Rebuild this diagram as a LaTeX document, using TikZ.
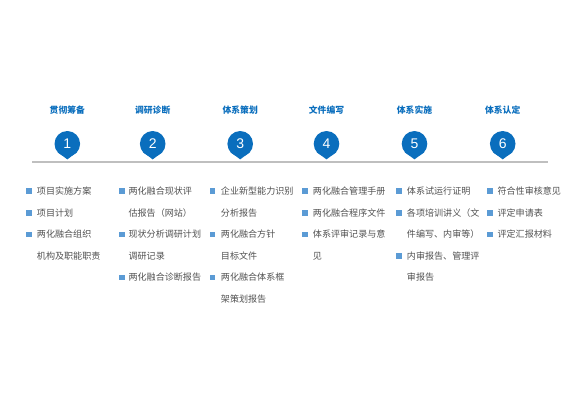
\documentclass[tikz,border=0pt]{standalone}
\usepackage{fontspec}
\setmainfont{Liberation Sans}
\newfontfamily\cjk{Noto Sans CJK SC}
\usetikzlibrary{calc}
\definecolor{pinblue}{HTML}{0A6EBD}
\definecolor{bulblue}{HTML}{5B9BD5}
\definecolor{txtgray}{HTML}{505050}
\definecolor{linegray}{HTML}{BFBFBF}
\tikzset{
  pin/.style={circle, fill=pinblue, minimum size=19.2pt, inner sep=0pt, outer sep=0pt},
  title/.style={text=pinblue, font=\cjk\bfseries\fontsize{6.6}{8}\selectfont, inner sep=0pt},
  item/.style={anchor=west, text=txtgray, font=\cjk\fontsize{6.8}{8}\selectfont, inner sep=0pt},
  bul/.style={fill=bulblue, minimum size=4.4pt, inner sep=0pt, outer sep=0pt}
}
\begin{document}
\begin{tikzpicture}[x=0.75pt, y=-0.75pt]
\useasboundingbox (0,0) rectangle (580,400);
% baseline
\coordinate (L0) at (32,162);
\coordinate (L1) at (548,162);
\draw[linegray, line width=1.1pt] (L0) -- (L1);
% titles and pins
\foreach \i/\x/\t in {1/67.3/贯彻筹备, 2/152.7/调研诊断, 3/240.2/体系策划, 4/326.5/文件编写, 5/414.5/体系实施, 6/502.7/体系认定}{
  \node[title] (t\i) at (\x,110) {\t};
  \node[pin] (p\i) at (\x,143.8) {};
  \fill[pinblue] (p\i.-40) -- ($(p\i.center)+(0,15.6)$) -- (p\i.-140) -- cycle;
  \node[text=white, font=\fontsize{10.5}{12}\selectfont, inner sep=0pt] (n\i) at (\x,144) {\i};
}
% column 1
\foreach \j/\y/\t/\b in {1/191/项目实施方案/1, 2/213/项目计划/1, 3/234.5/两化融合组织/1, 4/256/机构及职能职责/0}{
  \node[item] (a\j) at (36.7,\y) {\t};
  \ifnum\b=1 \node[bul] (ab\j) at (29.3,\y) {};\fi
}
% column 2
\foreach \j/\y/\t/\b in {1/191/两化融合现状评/1, 2/213/估报告（网站）/0, 3/234.5/现状分析调研计划/1, 4/256/调研记录/0, 5/277.5/两化融合诊断报告/1}{
  \node[item] (b\j) at (128.3,\y) {\t};
  \ifnum\b=1 \node[bul] (bb\j) at (121.7,\y) {};\fi
}
% column 3
\foreach \j/\y/\t/\b in {1/191/企业新型能力识别/1, 2/213/分析报告/0, 3/234.5/两化融合方针/1, 4/256/目标文件/0, 5/277.5/两化融合体系框/1, 6/299/架策划报告/0}{
  \node[item] (c\j) at (220.7,\y) {\t};
  \ifnum\b=1 \node[bul] (cb\j) at (212.5,\y) {};\fi
}
% column 4
\foreach \j/\y/\t/\b in {1/191/两化融合管理手册/1, 2/213/两化融合程序文件/1, 3/234.5/体系评审记录与意/1, 4/256/见/0}{
  \node[item] (d\j) at (312.7,\y) {\t};
  \ifnum\b=1 \node[bul] (db\j) at (305.3,\y) {};\fi
}
% column 5
\foreach \j/\y/\t/\b in {1/191/体系试运行证明/1, 2/213/各项培训讲义（文/1, 3/234.5/件编写、内审等）/0, 4/256/内审报告、管理评/1, 5/277.5/审报告/0}{
  \node[item] (e\j) at (406.7,\y) {\t};
  \ifnum\b=1 \node[bul] (eb\j) at (399.3,\y) {};\fi
}
% column 6
\foreach \j/\y/\t/\b in {1/191/符合性审核意见/1, 2/213/评定申请表/1, 3/234.5/评定汇报材料/1}{
  \node[item] (f\j) at (497.3,\y) {\t};
  \ifnum\b=1 \node[bul] (fb\j) at (490,\y) {};\fi
}
\end{tikzpicture}
\end{document}
